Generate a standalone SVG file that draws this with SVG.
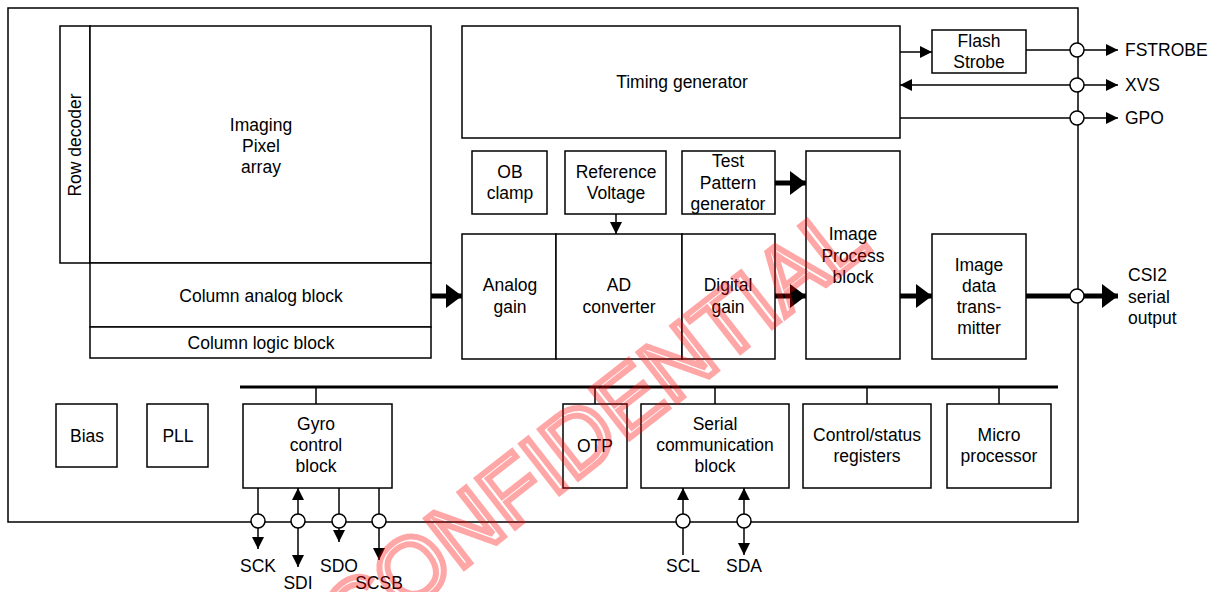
<svg xmlns="http://www.w3.org/2000/svg" width="1215" height="592" viewBox="0 0 1215 592">
<style>
.b{fill:#fff;stroke:#000;stroke-width:1.5}
.t{font-family:"Liberation Sans",Arial,sans-serif;font-size:17.5px;fill:#000;text-anchor:middle}
.s{text-anchor:start}
.l{fill:none;stroke:#000;stroke-width:1.5}
.k{fill:none;stroke:#000;stroke-width:5}
.p{fill:#fff;stroke:#000;stroke-width:1.5}
.wm{font-family:"Liberation Sans",Arial,sans-serif;font-size:90px;fill:none;stroke:#ff0000;stroke-opacity:0.35;stroke-width:6}
</style>
<defs>
<marker id="a2" viewBox="0 0 10 10" refX="10" refY="5" markerWidth="12" markerHeight="12" markerUnits="userSpaceOnUse" orient="auto-start-reverse"><path d="M0,0 L10,5 L0,10 z" fill="#000"/></marker>
<marker id="A" viewBox="0 0 16 24" refX="16" refY="12" markerWidth="16" markerHeight="24" markerUnits="userSpaceOnUse" orient="auto"><path d="M0,0 L16,12 L0,24 z" fill="#000"/></marker>
</defs>
<rect id="frame" x="8" y="8" width="1070" height="514" class="b"/>
<g id="nodes">
<g id="row-decoder"><rect x="60" y="26" width="30" height="237" class="b"/><text class="t" transform="translate(81,145) rotate(-90)">Row decoder</text></g>
<g id="pixel-array"><rect x="90" y="26" width="341" height="237" class="b"/><text class="t" x="261" y="131">Imaging</text><text class="t" x="261" y="152">Pixel</text><text class="t" x="261" y="173">array</text></g>
<g id="column-analog"><rect x="90" y="263" width="341" height="64" class="b"/><text class="t" x="261" y="302">Column analog block</text></g>
<g id="column-logic"><rect x="90" y="327" width="341" height="31" class="b"/><text class="t" x="261" y="349">Column logic block</text></g>
<g id="timing"><rect x="462" y="26" width="438" height="112" class="b"/><text class="t" x="682" y="88">Timing generator</text></g>
<g id="flash"><rect x="932" y="30" width="94" height="43" class="b"/><text class="t" x="979" y="47">Flash</text><text class="t" x="979" y="68">Strobe</text></g>
<g id="ob-clamp"><rect x="472" y="151" width="75" height="63" class="b"/><text class="t" x="510" y="178">OB</text><text class="t" x="510" y="199">clamp</text></g>
<g id="ref-voltage"><rect x="565" y="151" width="101" height="63" class="b"/><text class="t" x="616" y="178">Reference</text><text class="t" x="616" y="199">Voltage</text></g>
<g id="test-pattern"><rect x="682" y="151" width="93" height="63" class="b"/><text class="t" x="728" y="167">Test</text><text class="t" x="728" y="189">Pattern</text><text class="t" x="728" y="210">generator</text></g>
<g id="analog-gain"><rect x="462" y="234" width="94" height="125" class="b"/><text class="t" x="510" y="291">Analog</text><text class="t" x="510" y="313">gain</text></g>
<g id="ad-converter"><rect x="556" y="234" width="126" height="125" class="b"/><text class="t" x="619" y="291">AD</text><text class="t" x="619" y="313">converter</text></g>
<g id="digital-gain"><rect x="682" y="234" width="93" height="125" class="b"/><text class="t" x="728" y="291">Digital</text><text class="t" x="728" y="313">gain</text></g>
<g id="image-process"><rect x="806" y="151" width="94" height="208" class="b"/><text class="t" x="853" y="240">Image</text><text class="t" x="853" y="262">Process</text><text class="t" x="853" y="283">block</text></g>
<g id="image-tx"><rect x="932" y="234" width="94" height="125" class="b"/><text class="t" x="979" y="271">Image</text><text class="t" x="979" y="292">data</text><text class="t" x="979" y="313">trans-</text><text class="t" x="979" y="334">mitter</text></g>
<g id="bias"><rect x="56" y="404" width="61" height="63" class="b"/><text class="t" x="87" y="442">Bias</text></g>
<g id="pll"><rect x="147" y="404" width="61" height="63" class="b"/><text class="t" x="178" y="442">PLL</text></g>
<g id="gyro"><rect x="243" y="404" width="149" height="84" class="b"/><text class="t" x="316" y="430">Gyro</text><text class="t" x="316" y="451">control</text><text class="t" x="316" y="472">block</text></g>
<g id="otp"><rect x="563" y="404" width="64" height="84" class="b"/><text class="t" x="595" y="452">OTP</text></g>
<g id="serial"><rect x="641" y="404" width="148" height="84" class="b"/><text class="t" x="715" y="430">Serial</text><text class="t" x="715" y="451">communication</text><text class="t" x="715" y="472">block</text></g>
<g id="control"><rect x="803" y="404" width="128" height="84" class="b"/><text class="t" x="867" y="441">Control/status</text><text class="t" x="867" y="462">registers</text></g>
<g id="micro"><rect x="947" y="404" width="104" height="84" class="b"/><text class="t" x="999" y="441">Micro</text><text class="t" x="999" y="462">processor</text></g>
</g>
<g id="connectors">
<line x1="240" y1="387" x2="1058" y2="387" stroke="#000" stroke-width="3"/>
<path class="l" d="M316,387V404M595,387V404M715,387V404M867,387V404M999,387V404"/>
<line x1="616" y1="214" x2="616" y2="234" class="l" marker-end="url(#a2)"/>
<line x1="431" y1="296" x2="462" y2="296" class="k" marker-end="url(#A)"/>
<line x1="775" y1="183" x2="806" y2="183" class="k" marker-end="url(#A)"/>
<line x1="775" y1="296" x2="806" y2="296" class="k" marker-end="url(#A)"/>
<line x1="900" y1="296" x2="932" y2="296" class="k" marker-end="url(#A)"/>
<line x1="1026" y1="296" x2="1118" y2="296" class="k" marker-end="url(#A)"/>
<line x1="900" y1="52" x2="932" y2="52" class="l" marker-end="url(#a2)"/>
<line x1="1026" y1="50" x2="1118" y2="50" class="l" marker-end="url(#a2)"/>
<line x1="900" y1="85" x2="1118" y2="85" class="l" marker-start="url(#a2)" marker-end="url(#a2)"/>
<line x1="900" y1="118" x2="1118" y2="118" class="l" marker-end="url(#a2)"/>
<line x1="258" y1="488" x2="258" y2="549" class="l" marker-end="url(#a2)"/>
<line x1="298" y1="488" x2="298" y2="567" class="l" marker-start="url(#a2)" marker-end="url(#a2)"/>
<line x1="339" y1="488" x2="339" y2="542" class="l" marker-end="url(#a2)"/>
<line x1="379" y1="488" x2="379" y2="560" class="l" marker-end="url(#a2)"/>
<line x1="683" y1="555" x2="683" y2="488" class="l" marker-end="url(#a2)"/>
<line x1="744" y1="488" x2="744" y2="555" class="l" marker-start="url(#a2)" marker-end="url(#a2)"/>
<g id="pins">
<circle cx="1077" cy="50" r="7" class="p"/><circle cx="1077" cy="85" r="7" class="p"/><circle cx="1077" cy="118" r="7" class="p"/><circle cx="1077" cy="296" r="7" class="p"/>
<circle cx="258" cy="521" r="7" class="p"/><circle cx="298" cy="521" r="7" class="p"/><circle cx="339" cy="521" r="7" class="p"/><circle cx="379" cy="521" r="7" class="p"/>
<circle cx="683" cy="521" r="7" class="p"/><circle cx="744" cy="521" r="7" class="p"/>
</g>
</g>
<g id="pin-labels">
<text class="t s" x="1125" y="56">FSTROBE</text>
<text class="t s" x="1125" y="91">XVS</text>
<text class="t s" x="1125" y="124">GPO</text>
<text class="t s" x="1128" y="281">CSI2</text>
<text class="t s" x="1128" y="303">serial</text>
<text class="t s" x="1128" y="324">output</text>
<text class="t" x="258" y="572">SCK</text>
<text class="t" x="298" y="589">SDI</text>
<text class="t" x="339" y="572">SDO</text>
<text class="t" x="379" y="589">SCSB</text>
<text class="t" x="683" y="572">SCL</text>
<text class="t" x="744" y="572">SDA</text>
</g>
<text class="wm" transform="translate(352,655) rotate(-38)">CONFIDENTIAL</text>
</svg>
